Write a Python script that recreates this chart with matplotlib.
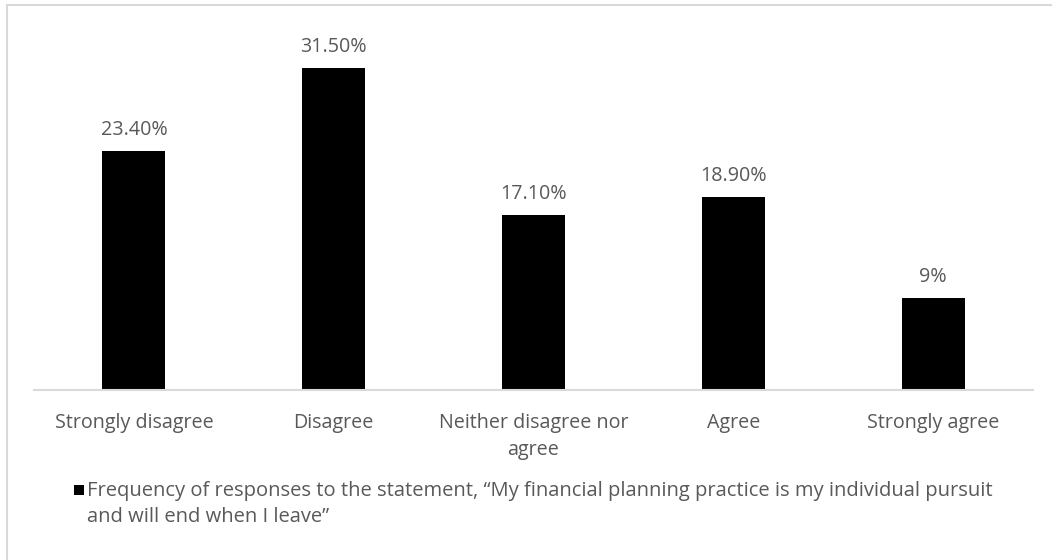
import matplotlib
matplotlib.use("Agg")
import matplotlib.pyplot as plt
from matplotlib.patches import Rectangle

categories = ["Strongly disagree", "Disagree", "Neither disagree nor\nagree", "Agree", "Strongly agree"]
values = [23.4, 31.5, 17.1, 18.9, 9.0]
value_labels = ["23.40%", "31.50%", "17.10%", "18.90%", "9%"]
series_name = ("Frequency of responses to the statement, \u201cMy financial planning practice is my individual pursuit\n"
               "and will end when I leave\u201d")

TEXT = "#595959"
GRID = "#d9d9d9"
FONT = ["Open Sans", "DejaVu Sans"]
FS = 14.2
plt.rcParams["font.family"] = FONT

W, H = 1052, 560
fig = plt.figure(figsize=(W / 100, H / 100), dpi=100)

# outer chart frame
fig.patches.append(Rectangle((7 / W, -0.1), 1.2, 1 - 5 / H + 0.1, transform=fig.transFigure,
                             fill=False, edgecolor=GRID, linewidth=1.5))

ax = fig.add_axes([34 / W, 170 / H, (1033 - 34) / W, (528 - 170) / H])
x = range(len(categories))
bars = ax.bar(x, values, width=0.315, color="black")
ax.set_xlim(-0.5, len(categories) - 0.5)
ax.set_ylim(0, 35)

for rect, lab in zip(bars, value_labels):
    ax.annotate(lab, (rect.get_x() + rect.get_width() / 2, rect.get_height()),
                xytext=(0, 15), textcoords="offset points", ha="center", va="center",
                fontsize=FS, color=TEXT)

ax.set_xticks(list(x))
ax.set_xticklabels(categories, fontsize=FS, color=TEXT, linespacing=1.45, va="top")
ax.tick_params(axis="x", length=0, pad=16.5)
ax.set_yticks([])
for s in ["top", "right", "left"]:
    ax.spines[s].set_visible(False)
ax.spines["bottom"].set_color(GRID)
ax.spines["bottom"].set_linewidth(1.5)

# legend: swatch plus wrapped series name
fig.patches.append(Rectangle((74 / W, 1 - 495 / H), 10 / W, 10 / H, transform=fig.transFigure,
                             facecolor="black", edgecolor="none"))
fig.text(87 / W, 1 - 481 / H, series_name, ha="left", va="top", fontsize=14.5,
         color=TEXT, linespacing=1.4)

fig.savefig("out.png", dpi=100)
